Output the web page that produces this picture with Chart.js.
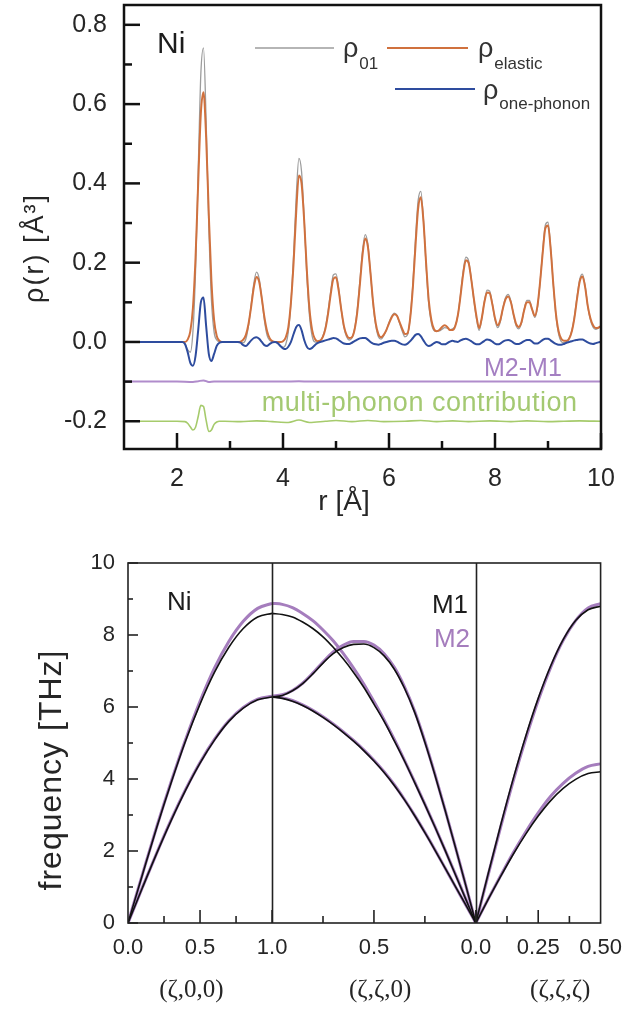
<!DOCTYPE html>
<html><head><meta charset="utf-8">
<script src="https://cdn.jsdelivr.net/npm/chart.js@4.4.1/dist/chart.umd.min.js"></script>
<style>
html,body{margin:0;padding:0;background:#fff;}
#wrap{position:relative;width:634px;height:1015px;overflow:hidden;background:#fff;}
#c1{position:absolute;left:0;top:0;}
#c2{position:absolute;left:0;top:530px;}
</style></head><body>
<div id="wrap"><canvas id="c1" width="634" height="530"></canvas><canvas id="c2" width="634" height="485"></canvas></div>
<script>
// ---------------- TOP PANEL DATA: pair distribution functions of Ni ----------------
const rGrid = [
 1,1.05,1.1,1.15,1.2,1.25,1.3,1.35,1.4,1.45,
 1.5,1.55,1.6,1.65,1.7,1.75,1.8,1.85,1.9,1.95,
 2,2.05,2.1,2.15,2.2,2.25,2.3,2.35,2.4,2.45,
 2.5,2.55,2.6,2.65,2.7,2.75,2.8,2.85,2.9,2.95,
 3,3.05,3.1,3.15,3.2,3.25,3.3,3.35,3.4,3.45,
 3.5,3.55,3.6,3.65,3.7,3.75,3.8,3.85,3.9,3.95,
 4,4.05,4.1,4.15,4.2,4.25,4.3,4.35,4.4,4.45,
 4.5,4.55,4.6,4.65,4.7,4.75,4.8,4.85,4.9,4.95,
 5,5.05,5.1,5.15,5.2,5.25,5.3,5.35,5.4,5.45,
 5.5,5.55,5.6,5.65,5.7,5.75,5.8,5.85,5.9,5.95,
 6,6.05,6.1,6.15,6.2,6.25,6.3,6.35,6.4,6.45,
 6.5,6.55,6.6,6.65,6.7,6.75,6.8,6.85,6.9,6.95,
 7,7.05,7.1,7.15,7.2,7.25,7.3,7.35,7.4,7.45,
 7.5,7.55,7.6,7.65,7.7,7.75,7.8,7.85,7.9,7.95,
 8,8.05,8.1,8.15,8.2,8.25,8.3,8.35,8.4,8.45,
 8.5,8.55,8.6,8.65,8.7,8.75,8.8,8.85,8.9,8.95,
 9,9.05,9.1,9.15,9.2,9.25,9.3,9.35,9.4,9.45,
 9.5,9.55,9.6,9.65,9.7,9.75,9.8,9.85,9.9,9.95,
 10];

const rhoElastic = [
 0,0,0,0,0,0,0,0,0,0,
 0,0,0,0,0,0,0,0,0,0,
 0,0,0,0,0.006,0.026,0.085,0.213,0.402,0.577,
 0.630,0.516,0.322,0.153,0.055,0.015,0.003,0,0,0,
 0,0,0,0,0.001,0.006,0.018,0.046,0.090,0.138,
 0.164,0.152,0.110,0.062,0.027,0.009,0.002,0,0,0,
 0.002,0.011,0.037,0.100,0.200,0.330,0.420,0.400,0.305,0.180,
 0.083,0.030,0.008,0.002,0.003,0.012,0.033,0.071,0.120,0.159,
 0.163,0.130,0.081,0.040,0.018,0.010,0.012,0.031,0.074,0.144,
 0.219,0.261,0.242,0.175,0.100,0.047,0.020,0.012,0.018,0.030,
 0.047,0.062,0.070,0.066,0.050,0.033,0.020,0.022,0.060,0.137,
 0.243,0.337,0.365,0.305,0.199,0.105,0.055,0.032,0.027,0.030,
 0.038,0.042,0.038,0.030,0.030,0.040,0.068,0.117,0.172,0.206,
 0.200,0.160,0.110,0.065,0.035,0.060,0.100,0.125,0.123,0.095,
 0.060,0.042,0.055,0.085,0.108,0.115,0.100,0.070,0.045,0.038,
 0.050,0.080,0.100,0.100,0.082,0.066,0.090,0.150,0.225,0.287,
 0.294,0.235,0.146,0.071,0.027,0.008,0.003,0.003,0.009,0.027,
 0.062,0.111,0.153,0.165,0.139,0.091,0.060,0.042,0.035,0.036,
 0.040];

const rhoOnePhonon = [
 0,0,0,0,0,0,0,0,0,0,
 0,0,0,0,0,0,0,0,0,0,
 0,0,0,-0.005,-0.025,-0.052,-0.060,-0.035,0.030,0.100,
 0.112,0.040,-0.030,-0.048,-0.030,-0.010,-0.002,0,0,0,
 0,0,0,0,-0.002,-0.008,-0.010,-0.004,0.004,0.010,
 0.012,0.008,0.000,-0.008,-0.010,-0.005,-0.001,0,-0.003,-0.010,
 -0.016,-0.018,-0.012,0.000,0.020,0.038,0.043,0.030,0.005,-0.012,
 -0.018,-0.015,-0.008,-0.003,0.000,0.002,0.004,0.006,0.008,0.010,
 0.009,0.005,0.000,-0.004,-0.005,-0.005,-0.002,0.002,0.006,0.009,
 0.010,0.010,0.006,0.000,-0.004,-0.006,-0.007,-0.005,-0.002,0.000,
 0.002,0.003,0.003,0.001,-0.003,-0.006,-0.007,-0.004,0.002,0.010,
 0.018,0.020,0.015,0.004,-0.006,-0.010,-0.008,-0.003,0.000,-0.002,
 -0.006,-0.006,-0.003,0.001,0.003,0.001,0.000,0.004,0.007,0.008,
 0.006,0.002,-0.003,-0.006,-0.006,-0.002,0.003,0.006,0.005,0.001,
 -0.004,-0.006,-0.004,0.001,0.004,0.005,0.003,-0.002,-0.005,-0.005,
 -0.002,0.002,0.005,0.005,0.001,-0.004,-0.004,0.000,0.005,0.008,
 0.008,0.004,-0.001,-0.005,-0.007,-0.007,-0.005,-0.002,0.000,0.002,
 0.004,0.005,0.006,0.006,0.003,-0.001,-0.004,-0.005,-0.003,-0.001,
 0.000];

const rho01 = [
 0,0,0,0,0,0,0,0,0,0,
 0,0,0,0,0,0,0,0,0,0,
 0,0,0,-0.005,-0.019,-0.026,0.025,0.178,0.432,0.677,
 0.742,0.556,0.292,0.105,0.025,0.005,0.001,0,0,0,
 0,0,0,0,-0.001,-0.002,0.008,0.042,0.094,0.148,
 0.176,0.160,0.110,0.054,0.017,0.004,0.001,0,-0.003,-0.010,
 -0.014,-0.007,0.025,0.100,0.220,0.368,0.463,0.430,0.310,0.168,
 0.065,0.015,0.000,-0.001,0.003,0.014,0.037,0.077,0.128,0.169,
 0.172,0.135,0.081,0.036,0.013,0.005,0.010,0.033,0.080,0.153,
 0.229,0.271,0.248,0.175,0.096,0.041,0.013,0.007,0.016,0.030,
 0.049,0.065,0.073,0.067,0.047,0.027,0.013,0.018,0.062,0.147,
 0.261,0.357,0.380,0.309,0.193,0.095,0.047,0.029,0.027,0.028,
 0.032,0.036,0.035,0.031,0.033,0.041,0.068,0.121,0.179,0.214,
 0.206,0.162,0.107,0.059,0.029,0.058,0.103,0.131,0.128,0.096,
 0.056,0.036,0.051,0.086,0.112,0.120,0.103,0.068,0.040,0.033,
 0.048,0.082,0.105,0.105,0.083,0.062,0.086,0.150,0.230,0.295,
 0.302,0.239,0.145,0.066,0.020,0.001,-0.002,0.001,0.009,0.029,
 0.066,0.116,0.159,0.171,0.142,0.090,0.056,0.037,0.032,0.035,
 0.040];

// M2-M1 difference (shown offset at -0.1)
const diffR = [1.0,2.0,2.3,2.4,2.5,2.6,2.7,3.0,4.0,4.3,4.5,6.0,8.0,10.0];
const diffM2M1 = [-0.1,-0.1,-0.101,-0.099,-0.097,-0.101,-0.1,-0.1,-0.1,-0.099,-0.1,-0.1,-0.1,-0.1];

// multi-phonon contribution (shown offset at -0.2)
const multiR = [1.0,1.5,2.0,2.15,2.2,2.25,2.3,2.35,2.4,2.45,2.5,2.55,2.6,2.65,2.7,2.75,2.8,2.9,
 3.2,3.5,3.8,4.1,4.3,4.5,4.8,5.0,5.3,5.6,5.9,6.3,6.6,6.9,7.2,7.5,7.9,8.3,8.6,9.0,9.3,9.6,10.0];
const multiPhonon = [-0.2,-0.2,-0.2,-0.201,-0.205,-0.214,-0.222,-0.215,-0.188,-0.160,-0.163,-0.198,-0.226,-0.222,-0.208,-0.202,-0.200,-0.200,
 -0.201,-0.199,-0.201,-0.203,-0.197,-0.203,-0.200,-0.198,-0.201,-0.198,-0.201,-0.200,-0.198,-0.201,-0.199,-0.201,-0.199,-0.201,-0.199,-0.201,-0.200,-0.199,-0.200];

const topXMajor = [2,4,6,8,10];
const topXMinor = [3,5,7,9];
const topYMajor = [-0.2,0.0,0.2,0.4,0.6,0.8];
const topYMinor = [-0.1,0.1,0.3,0.5,0.7];

// ---------------- BOTTOM PANEL DATA: phonon dispersion of Ni, models M1 and M2 (THz) ----------------
const zetaX = [0,0.1,0.2,0.3,0.4,0.5,0.6,0.7,0.8,0.9,1.0];            // (ζ,0,0)
const m1X_LA = [0,1.34,2.66,3.90,5.06,6.08,6.96,7.66,8.18,8.50,8.60];
const m1X_TA = [0,0.98,1.94,2.85,3.69,4.44,5.08,5.60,5.97,6.20,6.28];
const m2X_LA = [0,1.35,2.68,3.93,5.10,6.16,7.08,7.82,8.38,8.74,8.88];
const m2X_TA = [0,0.99,1.95,2.87,3.71,4.46,5.10,5.62,5.99,6.22,6.30];

const zetaK = [1.0,0.95,0.9,0.85,0.8,0.75,0.7,0.65,0.6,0.55,0.5,0.45,0.4,0.35,0.3,0.25,0.2,0.15,0.1,0.05,0]; // (ζ,ζ,0)
const m1K_LA = [6.28,6.32,6.45,6.65,6.92,7.22,7.48,7.65,7.74,7.75,7.65,7.42,7.05,6.52,5.85,5.02,4.10,3.12,2.10,1.06,0];
const m2K_LA = [6.30,6.34,6.46,6.66,6.94,7.25,7.53,7.72,7.82,7.82,7.72,7.48,7.10,6.56,5.88,5.05,4.12,3.13,2.11,1.06,0];
const m1K_T1 = [8.60,8.57,8.50,8.36,8.18,7.95,7.66,7.33,6.96,6.55,6.08,5.60,5.06,4.50,3.90,3.29,2.66,2.01,1.34,0.67,0];
const m2K_T1 = [8.88,8.85,8.76,8.60,8.40,8.14,7.84,7.48,7.08,6.64,6.15,5.64,5.10,4.52,3.92,3.30,2.67,2.02,1.35,0.68,0];
const m1K_T2 = [6.28,6.24,6.16,6.04,5.89,5.71,5.51,5.29,5.05,4.79,4.50,4.18,3.82,3.42,2.98,2.51,2.02,1.52,1.01,0.51,0];
const m2K_T2 = [6.30,6.26,6.18,6.06,5.91,5.73,5.53,5.31,5.07,4.81,4.52,4.20,3.84,3.43,2.99,2.52,2.03,1.52,1.01,0.51,0];

const zetaL = [0,0.05,0.1,0.15,0.2,0.25,0.3,0.35,0.4,0.45,0.5];       // (ζ,ζ,ζ)
const m1L_LA = [0,1.38,2.73,4.01,5.19,6.24,7.14,7.87,8.40,8.70,8.80];
const m2L_LA = [0,1.35,2.68,3.95,5.12,6.18,7.10,7.85,8.40,8.75,8.87];
const m1L_TA = [0,0.66,1.30,1.91,2.47,2.97,3.40,3.74,3.99,4.15,4.20];
const m2L_TA = [0,0.67,1.32,1.95,2.53,3.06,3.52,3.88,4.16,4.35,4.42];

const dirLabels = ['(ζ,0,0)','(ζ,ζ,0)','(ζ,ζ,ζ)'];
const botTickSeg = [0,0,0,1,1,2,2];
const botTickZeta = [0,0.5,1.0,0.5,0,0.25,0.5];
const botTickLabels = ['0.0','0.5','1.0','0.5','0.0','0.25','0.50'];
const botMinorSeg = [0,0,1,1,2,2];
const botMinorZeta = [0.25,0.75,0.75,0.25,0.125,0.375];
const botYMajor = [0,2,4,6,8,10];
const botYMinor = [1,3,5,7,9];

// ---------------- sanity checks ----------------
[rhoElastic, rhoOnePhonon, rho01].forEach((a,i)=>{ if(a.length!==rGrid.length) throw new Error('len mismatch '+i+' '+a.length); });
if (multiR.length!==multiPhonon.length) throw new Error('multi len');
if (diffR.length!==diffM2M1.length) throw new Error('diff len');

// ---------------- helpers ----------------
const SQ2 = Math.SQRT2, SQ3 = Math.sqrt(3);
const pathQ = (seg, z) => seg === 0 ? z : (seg === 1 ? 1 + SQ2 * (1 - z) : 1 + SQ2 + SQ3 * z);
const toXY = (xs, ys) => xs.map((x, i) => ({x: x, y: ys[i]}));
const branch = (seg, zs, fs) => zs.map((z, i) => ({x: pathQ(seg, z), y: fs[i]}));

const FONT = '"Liberation Sans", Arial, Helvetica, sans-serif';
Chart.defaults.font.family = FONT;
Chart.defaults.color = '#262626';

const COL = {
  gray: '#9c9c9c', orange: '#d0713e', blue: '#2e4c9e', purple: '#b08ccb', green: '#a6cb6c',
  m1: '#111111', m2: '#a57dbd'
};

// frame + inward ticks plugin
const frameTicks = {
  id: 'frameTicks',
  afterDatasetsDraw(chart, args, o) {
    const {ctx, chartArea: a, scales} = chart;
    const xs = scales.x, ys = scales.y;
    ctx.save();
    ctx.strokeStyle = o.color;
    ctx.lineCap = 'butt';
    (o.vLines || []).forEach(v => {
      const px = Math.round(xs.getPixelForValue(v)) + 0.5;
      ctx.lineWidth = o.vLineWidth;
      ctx.beginPath(); ctx.moveTo(px, a.top); ctx.lineTo(px, a.bottom); ctx.stroke();
    });
    ctx.lineWidth = o.tickWidth;
    const xt = (vals, len) => vals.forEach(v => {
      const px = xs.getPixelForValue(v);
      ctx.beginPath(); ctx.moveTo(px, a.bottom); ctx.lineTo(px, a.bottom - len); ctx.stroke();
    });
    const yt = (vals, len) => vals.forEach(v => {
      const py = ys.getPixelForValue(v);
      ctx.beginPath(); ctx.moveTo(a.left, py); ctx.lineTo(a.left + len, py); ctx.stroke();
    });
    xt(o.xMajor, o.xMajorLen); xt(o.xMinor, o.xMinorLen);
    yt(o.yMajor, o.yMajorLen); yt(o.yMinor, o.yMinorLen);
    ctx.lineWidth = o.frameWidth;
    ctx.strokeRect(a.left, a.top, a.right - a.left, a.bottom - a.top);
    ctx.restore();
  }
};

// axis titles drawn at the reference positions
function drawTitle(ctx, text, x, y, size, rotate, spacing) {
  ctx.save();
  ctx.translate(x, y);
  if (rotate) ctx.rotate(-Math.PI / 2);
  ctx.font = size + 'px ' + FONT;
  if (spacing && 'letterSpacing' in ctx) ctx.letterSpacing = spacing + 'px';
  ctx.fillStyle = '#262626';
  ctx.textAlign = 'center';
  ctx.textBaseline = 'middle';
  ctx.fillText(text, 0, 0);
  ctx.restore();
}

// ---------------- TOP CHART ----------------
const legendEntries = [
  {ds: 0, x0: 255, x1: 334, y: 48, tx: 343, sub: '01', by: 57, sy: 69},
  {ds: 1, x0: 387, x1: 468, y: 48, tx: 478, sub: 'elastic', by: 57, sy: 69},
  {ds: 2, x0: 395, x1: 475, y: 89, tx: 483, sub: 'one-phonon', by: 99, sy: 109}
];
const topText = {
  id: 'topText',
  afterDraw(chart) {
    const {ctx, scales: {x, y}} = chart;
    ctx.save();
    ctx.textBaseline = 'alphabetic';
    ctx.fillStyle = '#1c1c1c';
    ctx.font = '30px ' + FONT;
    ctx.textAlign = 'left';
    ctx.fillText('Ni', 157, 53);
    legendEntries.forEach(e => {
      const ds = chart.data.datasets[e.ds];
      ctx.strokeStyle = ds.borderColor; ctx.lineWidth = ds.borderWidth;
      ctx.beginPath(); ctx.moveTo(e.x0, e.y); ctx.lineTo(e.x1, e.y); ctx.stroke();
      ctx.fillStyle = '#333';
      ctx.font = '27px ' + FONT;
      ctx.fillText('ρ', e.tx, e.by);
      const w = ctx.measureText('ρ').width;
      ctx.font = '17px ' + FONT;
      ctx.fillText(e.sub, e.tx + w + 1, e.sy);
    });
    ctx.font = '25px ' + FONT;
    ctx.fillStyle = '#a47fc2';
    ctx.textAlign = 'right';
    ctx.fillText('M2-M1', x.getPixelForValue(9.26), y.getPixelForValue(-0.0855));
    ctx.font = '27px ' + FONT;
    if ('letterSpacing' in ctx) ctx.letterSpacing = '0.5px';
    ctx.fillStyle = '#a4c972';
    ctx.textAlign = 'left';
    ctx.fillText('multi-phonon contribution', x.getPixelForValue(3.6), y.getPixelForValue(-0.173));
    ctx.restore();
    drawTitle(ctx, 'r [Å]', 344, 502, 28, false, 0);
    drawTitle(ctx, 'ρ(r) [Å³]', 36, 248, 27, true, 2);
  }
};

new Chart(document.getElementById('c1'), {
  type: 'line',
  data: {
    datasets: [
      {label: 'ρ01', data: toXY(rGrid, rho01), borderColor: COL.gray, borderWidth: 1.3, order: 3},
      {label: 'ρelastic', data: toXY(rGrid, rhoElastic), borderColor: COL.orange, borderWidth: 2, order: 2},
      {label: 'ρone-phonon', data: toXY(rGrid, rhoOnePhonon), borderColor: COL.blue, borderWidth: 2, order: 1},
      {label: 'M2-M1', data: toXY(diffR, diffM2M1), borderColor: COL.purple, borderWidth: 2, order: 4},
      {label: 'multi-phonon contribution', data: toXY(multiR, multiPhonon), borderColor: COL.green, borderWidth: 1.6, order: 4}
    ]
  },
  options: {
    responsive: false, animation: false, devicePixelRatio: 1,
    layout: {padding: {top: 5, right: 33, left: 0, bottom: 0}},
    elements: {point: {radius: 0}, line: {cubicInterpolationMode: 'monotone', fill: false}},
    plugins: {
      legend: {display: false}, tooltip: {enabled: false},
      frameTicks: {color: '#111', frameWidth: 2.5, tickWidth: 2.5,
        xMajor: topXMajor, xMinor: topXMinor, yMajor: topYMajor, yMinor: topYMinor,
        xMajorLen: 16, xMinorLen: 8, yMajorLen: 16, yMinorLen: 8}
    },
    scales: {
      x: {type: 'linear', min: 1, max: 10,
        afterBuildTicks: ax => { ax.ticks = topXMajor.map(v => ({value: v})); },
        afterFit: s => { s.height = 81; s.paddingTop = 0; s.paddingBottom = 0; },
        grid: {display: false, drawTicks: false}, border: {display: false},
        ticks: {padding: 15, font: {size: 25}, color: '#262626', autoSkip: false, maxRotation: 0, callback: v => String(v)},
        title: {display: false, text: 'r [Å]'}
      },
      y: {type: 'linear', min: -0.27, max: 0.85,
        afterBuildTicks: ax => { ax.ticks = topYMajor.map(v => ({value: v})); },
        afterFit: s => { s.width = 124; s.paddingTop = 0; s.paddingBottom = 0; },
        grid: {display: false, drawTicks: false}, border: {display: false},
        ticks: {padding: 17, font: {size: 25}, color: '#262626', callback: v => v.toFixed(1)},
        title: {display: false, text: 'ρ(r) [Å³]'}
      }
    }
  },
  plugins: [frameTicks, topText]
});

// ---------------- BOTTOM CHART ----------------
const botText = {
  id: 'botText',
  afterDraw(chart) {
    const {ctx} = chart;
    ctx.save();
    ctx.textBaseline = 'alphabetic';
    ctx.font = '26px ' + FONT;
    ctx.fillStyle = '#1c1c1c';
    ctx.textAlign = 'left';
    ctx.fillText('Ni', 167, 80);
    ctx.textAlign = 'right';
    ctx.fillText('M1', 468, 83);
    ctx.fillStyle = COL.m2;
    ctx.fillText('M2', 470, 117);
    ctx.restore();
    drawTitle(ctx, 'frequency [THz]', 52, 240, 32, true, 1);
  }
};

const m1Sets = [branch(0, zetaX, m1X_LA), branch(0, zetaX, m1X_TA), branch(1, zetaK, m1K_LA), branch(1, zetaK, m1K_T1), branch(1, zetaK, m1K_T2), branch(2, zetaL, m1L_LA), branch(2, zetaL, m1L_TA)];
const m2Sets = [branch(0, zetaX, m2X_LA), branch(0, zetaX, m2X_TA), branch(1, zetaK, m2K_LA), branch(1, zetaK, m2K_T1), branch(1, zetaK, m2K_T2), branch(2, zetaL, m2L_LA), branch(2, zetaL, m2L_TA)];
const botDatasets = [];
m2Sets.forEach(d => botDatasets.push({label: 'M2', data: d, borderColor: COL.m2, borderWidth: 3, order: 2}));
m1Sets.forEach(d => botDatasets.push({label: 'M1', data: d, borderColor: COL.m1, borderWidth: 1.6, order: 1}));

const qEnd = pathQ(2, 0.5);
const majorQ = botTickSeg.map((s, i) => pathQ(s, botTickZeta[i]));
const minorQ = botMinorSeg.map((s, i) => pathQ(s, botMinorZeta[i]));
const dirLabelQ = [0.44, 1.75, 3.0];

new Chart(document.getElementById('c2'), {
  type: 'line',
  data: {datasets: botDatasets},
  options: {
    responsive: false, animation: false, devicePixelRatio: 1,
    layout: {padding: {top: 33, right: 24, left: 0, bottom: 0}},
    elements: {point: {radius: 0}, line: {cubicInterpolationMode: 'monotone', fill: false}},
    plugins: {
      legend: {display: false}, tooltip: {enabled: false},
      frameTicks: {color: '#222', frameWidth: 1.6, tickWidth: 1.6, vLines: [pathQ(1, 1), pathQ(1, 0)], vLineWidth: 1.6,
        xMajor: majorQ.filter(q => q > 0.01 && q < qEnd - 0.01), xMinor: minorQ, yMajor: botYMajor, yMinor: botYMinor,
        xMajorLen: 13, xMinorLen: 7, yMajorLen: 10, yMinorLen: 5}
    },
    scales: {
      x: {type: 'linear', min: 0, max: qEnd, weight: 0,
        afterBuildTicks: ax => { ax.ticks = majorQ.map(v => ({value: v})); },
        afterFit: s => { s.height = 52; },
        grid: {display: false, drawTicks: false}, border: {display: false},
        ticks: {padding: 12, font: {size: 22}, color: '#262626', autoSkip: false, maxRotation: 0, callback: (v, i) => botTickLabels[i]}
      },
      x2: {type: 'linear', position: 'bottom', min: 0, max: qEnd, weight: 1,
        afterBuildTicks: ax => { ax.ticks = dirLabelQ.map(v => ({value: v})); },
        afterFit: s => { s.height = 40; },
        grid: {display: false, drawTicks: false}, border: {display: false},
        ticks: {padding: 0, font: {size: 25, family: '"Liberation Serif", "Times New Roman", serif'}, color: '#262626', autoSkip: false, maxRotation: 0, callback: (v, i) => dirLabels[i]}
      },
      y: {type: 'linear', min: 0, max: 10,
        afterBuildTicks: ax => { ax.ticks = botYMajor.map(v => ({value: v})); },
        afterFit: s => { s.width = 128; s.paddingTop = 0; s.paddingBottom = 0; },
        grid: {display: false, drawTicks: false}, border: {display: false},
        ticks: {padding: 13, font: {size: 22}, color: '#262626', callback: v => String(v)},
        title: {display: false, text: 'frequency [THz]'}
      }
    }
  },
  plugins: [frameTicks, botText]
});
</script>
</body></html>
